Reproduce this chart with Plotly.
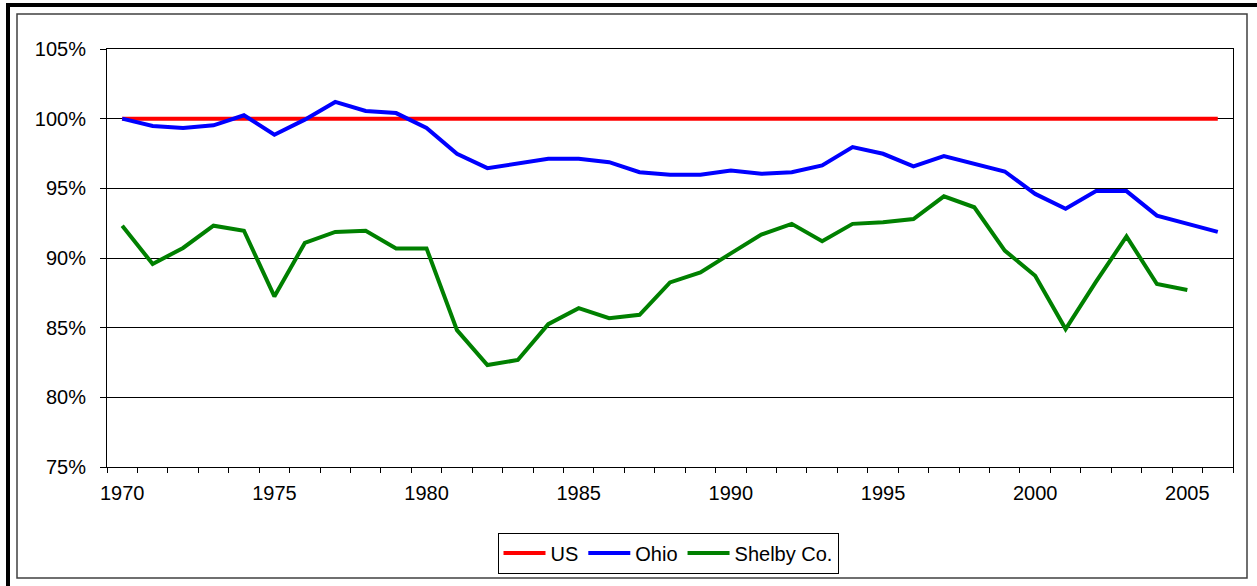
import plotly.graph_objects as go

# ---------------- data ----------------
years = list(range(1970, 2007))
us = [100.0] * 37
ohio = [100.0, 99.47, 99.33, 99.52, 100.24, 98.85, 99.93, 101.2, 100.55, 100.4,
        99.33, 97.48, 96.45, 96.8, 97.12, 97.12, 96.88, 96.16, 95.97, 95.97,
        96.28, 96.04, 96.16, 96.64, 97.96, 97.48, 96.57, 97.31, 96.76, 96.21,
        94.6, 93.53, 94.8, 94.8, 93.04, 92.45, 91.87]
shelby = [92.32, 89.57, 90.72, 92.32, 91.96, 87.24, 91.08, 91.87, 91.96, 90.69,
          90.69, 84.82, 82.32, 82.68, 85.25, 86.4, 85.68, 85.92, 88.25, 88.96,
          90.33, 91.68, 92.45, 91.2, 92.45, 92.56, 92.8, 94.43, 93.64, 90.53,
          88.73, 84.9, 88.3, 91.55, 88.13, 87.7, None]
x_label_years = [1970, 1975, 1980, 1985, 1990, 1995, 2000, 2005]
y_ticks = [75, 80, 85, 90, 95, 100, 105]
y_tick_labels = ["75%", "80%", "85%", "90%", "95%", "100%", "105%"]
series_names = ["US", "Ohio", "Shelby Co."]

# ---------------- layout geometry (pixels) ----------------
W, H = 1257, 586
PL, PR, PT, PB = 107, 1233, 49, 467  # plot area edges


def xp(px):
    return (px - PL) / (PR - PL)


def yp(py):
    return (PB - py) / (PB - PT)


FONT = "Liberation Sans, Arial, sans-serif"
FS = 20

fig = go.Figure()
colors = ["#FF0000", "#0000FF", "#008000"]
for name, vals, col in zip(series_names, [us, ohio, shelby], colors):
    fig.add_trace(go.Scatter(
        x=years, y=vals, name=name, mode="lines",
        line=dict(color=col, width=4), connectgaps=False,
    ))

shapes = [
    # outer thick frame (top and left)
    dict(type="line", xref="paper", yref="paper", x0=xp(6), x1=xp(1262), y0=yp(5), y1=yp(5),
         line=dict(color="black", width=4)),
    dict(type="line", xref="paper", yref="paper", x0=xp(8), x1=xp(8), y0=yp(3), y1=yp(592),
         line=dict(color="black", width=4)),
    # inner chart-area frame
    dict(type="rect", xref="paper", yref="paper", x0=xp(17), x1=xp(1247), y0=yp(578), y1=yp(14),
         line=dict(color="#404040", width=1.5), layer="below"),
]

fig.update_layout(
    width=W, height=H,
    margin=dict(l=PL, r=W - PR, t=PT, b=H - PB, pad=0),
    paper_bgcolor="white", plot_bgcolor="white",
    font=dict(family=FONT, size=FS, color="black"),
    showlegend=True,
    legend=dict(
        orientation="h", x=xp(668), xanchor="center", y=yp(553), yanchor="middle",
        bgcolor="white", bordercolor="black", borderwidth=1,
        font=dict(family=FONT, size=FS, color="black"),
        itemwidth=42, tracegroupgap=0,
    ),
    shapes=shapes,
    xaxis=dict(
        range=[1969.5, 2006.5], tickmode="array", tickvals=x_label_years,
        ticktext=[str(v) for v in x_label_years], ticks="", ticklabelstandoff=8,
        showgrid=False, zeroline=False,
        showline=True, linecolor="black", linewidth=1, mirror=True,
        minor=dict(tickmode="linear", tick0=1969.5, dtick=1, ticks="outside",
                   ticklen=5, tickcolor="black", tickwidth=1, showgrid=False),
        tickfont=dict(family=FONT, size=FS, color="black"),
    ),
    yaxis=dict(
        range=[75, 105], tickmode="array", tickvals=y_ticks, ticktext=y_tick_labels,
        ticks="outside", ticklen=6, tickcolor="black", ticklabelstandoff=10,
        showgrid=True, gridcolor="black", gridwidth=1, zeroline=False,
        showline=True, linecolor="black", linewidth=1, mirror=True,
        tickfont=dict(family=FONT, size=FS, color="black"),
    ),
)

fig.write_html(
    "out.html",
    config={"displayModeBar": False},
    post_script="document.body.style.margin='0';document.body.style.overflow='hidden';",
)
